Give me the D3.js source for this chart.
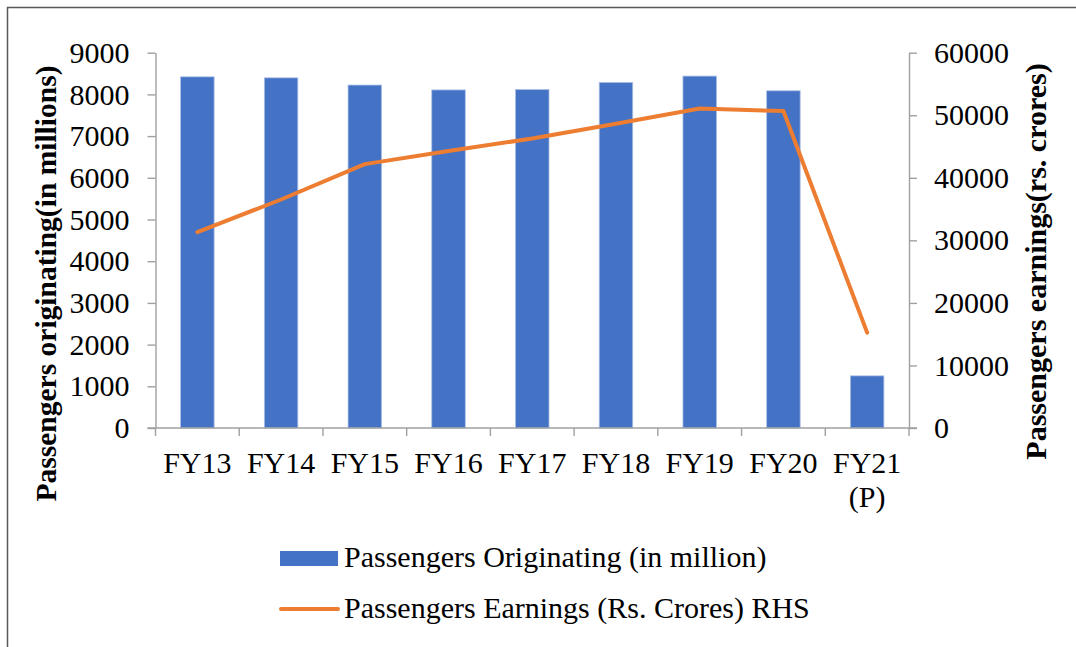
<!DOCTYPE html>
<html>
<head>
<meta charset="utf-8">
<script src="https://cdn.jsdelivr.net/npm/d3@7"></script>
<style>
  body { margin: 0; background: #fff; }
  svg text { font-family: "Liberation Serif", "Times New Roman", serif; fill: #000; }
</style>
</head>
<body>
<svg id="chart" width="1076" height="647"></svg>
<script>
// Fiscal years shown on the category axis (lines of each label)
const categories = ["FY13", "FY14", "FY15", "FY16", "FY17", "FY18", "FY19", "FY20", "FY21 (P)"];
const categoryLabels = [["FY13"], ["FY14"], ["FY15"], ["FY16"], ["FY17"], ["FY18"], ["FY19"], ["FY20"], ["FY21", "(P)"]];

// Passengers originating, in millions (left axis, bars)
const passengersOriginating = [8421, 8397, 8224, 8107, 8116, 8286, 8439, 8086, 1250];

// Passenger earnings, Rs. crores (right axis, line)
const passengerEarnings = [31323, 36532, 42190, 44283, 46280, 48643, 51067, 50669, 15248];

const leftTicks = [0, 1000, 2000, 3000, 4000, 5000, 6000, 7000, 8000, 9000];
const rightTicks = [0, 10000, 20000, 30000, 40000, 50000, 60000];

const seriesNames = ["Passengers Originating (in million)", "Passengers Earnings (Rs. Crores) RHS"];

const BLUE = "#4472C4", ORANGE = "#ED7D31", AXIS = "#a0a0a0";
const FONT = 30;

const svg = d3.select("#chart");

// outer frame
svg.append("rect")
  .attr("x", 7.5).attr("y", 7.5).attr("width", 1100).attr("height", 700)
  .attr("fill", "none").attr("stroke", "#595959").attr("stroke-width", 1.5);

const plot = { left: 155.5, right: 909, top: 52.7, bottom: 428 };

const x = d3.scaleBand()
  .domain(categories)
  .range([plot.left, plot.right])
  .paddingInner(0.6)
  .paddingOuter(0.3);

const yL = d3.scaleLinear().domain([0, 9000]).range([plot.bottom, plot.top]);
const yR = d3.scaleLinear().domain([0, 60000]).range([plot.bottom, plot.top]);

// bars
svg.append("g").selectAll("rect")
  .data(passengersOriginating)
  .join("rect")
  .attr("x", (d, i) => x(categories[i]))
  .attr("y", d => yL(d))
  .attr("width", x.bandwidth())
  .attr("height", d => yL(0) - yL(d))
  .attr("fill", BLUE)
  .attr("stroke", "#a9bee6")
  .attr("stroke-width", 0.8);

// category axis: baseline and ticks on band boundaries
const step = x.step();
const boundaries = d3.range(categories.length + 1).map(i => plot.left + i * step);
const xg = svg.append("g");
xg.append("line")
  .attr("x1", plot.left - 8).attr("x2", plot.right + 8)
  .attr("y1", plot.bottom).attr("y2", plot.bottom)
  .attr("stroke", AXIS).attr("stroke-width", 1.4);
xg.selectAll("line.tick")
  .data(boundaries)
  .join("line")
  .attr("class", "tick")
  .attr("x1", d => d).attr("x2", d => d)
  .attr("y1", plot.bottom).attr("y2", plot.bottom + 8)
  .attr("stroke", AXIS).attr("stroke-width", 1.4);

const labels = xg.selectAll("text")
  .data(categoryLabels)
  .join("text")
  .attr("x", (d, i) => x(categories[i]) + x.bandwidth() / 2)
  .attr("y", 473)
  .attr("text-anchor", "middle")
  .attr("font-size", FONT);
labels.selectAll("tspan")
  .data(d => d)
  .join("tspan")
  .attr("x", function () { return d3.select(this.parentNode).attr("x"); })
  .attr("dy", (d, i) => i === 0 ? 0 : 34)
  .text(d => d);

// left axis
const leftAxis = svg.append("g")
  .attr("transform", `translate(${plot.left},0)`)
  .call(d3.axisLeft(yL).tickValues(leftTicks).tickFormat(d3.format("d"))
    .tickSize(8).tickPadding(18).tickSizeOuter(0));

// right axis
const rightAxis = svg.append("g")
  .attr("transform", `translate(${plot.right},0)`)
  .call(d3.axisRight(yR).tickValues(rightTicks).tickFormat(d3.format("d"))
    .tickSize(8).tickPadding(17).tickSizeOuter(0));

[leftAxis, rightAxis].forEach(g => {
  g.select(".domain").attr("stroke", AXIS).attr("stroke-width", 1.4);
  g.selectAll(".tick line").attr("stroke", AXIS).attr("stroke-width", 1.4);
  g.selectAll(".tick text")
    .attr("font-size", FONT)
    .attr("fill", "#000");
});

// earnings line
const line = d3.line()
  .x((d, i) => x(categories[i]) + x.bandwidth() / 2)
  .y(d => yR(d));

svg.append("path")
  .datum(passengerEarnings)
  .attr("d", line)
  .attr("fill", "none")
  .attr("stroke", ORANGE)
  .attr("stroke-width", 4)
  .attr("stroke-linejoin", "round")
  .attr("stroke-linecap", "round");

// axis titles
svg.append("text")
  .attr("transform", "translate(55.5,283.5) rotate(-90)")
  .attr("text-anchor", "middle")
  .attr("font-size", 29.5)
  .attr("font-weight", "bold")
  .text("Passengers originating(in millions)");

svg.append("text")
  .attr("transform", "translate(1046,261.5) rotate(-90)")
  .attr("text-anchor", "middle")
  .attr("font-size", FONT)
  .attr("font-weight", "bold")
  .text("Passengers earnings(rs. crores)");

// legend
const legend = svg.append("g");
legend.append("rect")
  .attr("x", 280).attr("y", 551).attr("width", 58).attr("height", 15)
  .attr("fill", BLUE);
legend.append("line")
  .attr("x1", 281).attr("x2", 338).attr("y1", 609).attr("y2", 609)
  .attr("stroke", ORANGE).attr("stroke-width", 4).attr("stroke-linecap", "round");
legend.selectAll("text")
  .data(seriesNames)
  .join("text")
  .attr("x", 344)
  .attr("y", (d, i) => i === 0 ? 567 : 618)
  .attr("font-size", FONT)
  .text(d => d);
</script>
</body>
</html>
